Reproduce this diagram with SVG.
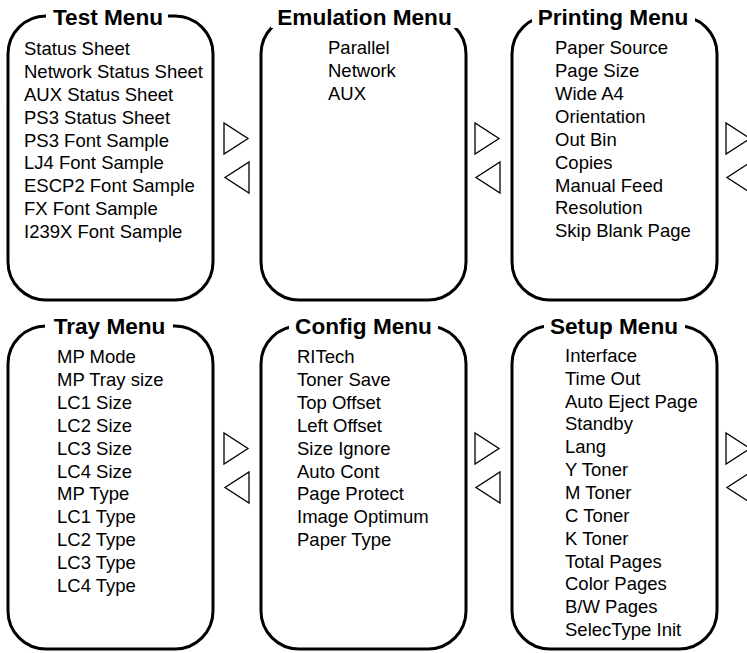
<svg xmlns="http://www.w3.org/2000/svg" width="747" height="653" viewBox="0 0 747 653">
<style>
.box{fill:none;stroke:#000;stroke-width:3}
.gap{fill:#fff;stroke:none}
.title{font-family:"Liberation Sans",Arial,sans-serif;font-weight:bold;font-size:22.6px;fill:#000;text-anchor:middle}
.item{font-family:"Liberation Sans",Arial,sans-serif;font-size:18.5px;fill:#000}
.tri{fill:#fff;stroke:#000;stroke-width:1.3;stroke-linejoin:miter}
</style>
<defs>
<polygon id="rt" class="tri" points="0,0 0,31 24,15.5"/>
<polygon id="lt" class="tri" points="25,0 25,31 1,15.5"/>
</defs>
<rect width="747" height="653" fill="#fff"/>

<g id="test-menu">
<rect class="box" x="8" y="16" width="205" height="284" rx="38" ry="38"/>
<rect class="gap" x="46" y="3" width="122" height="25"/>
<text class="title" x="108" y="25">Test Menu</text>
<text class="item" x="24" y="55">Status Sheet</text>
<text class="item" x="24" y="78">Network Status Sheet</text>
<text class="item" x="24" y="101">AUX Status Sheet</text>
<text class="item" x="24" y="124">PS3 Status Sheet</text>
<text class="item" x="24" y="147">PS3 Font Sample</text>
<text class="item" x="24" y="169">LJ4 Font Sample</text>
<text class="item" x="24" y="192">ESCP2 Font Sample</text>
<text class="item" x="24" y="215">FX Font Sample</text>
<text class="item" x="24" y="238">I239X Font Sample</text>
</g>

<g id="emulation-menu">
<rect class="box" x="261" y="16" width="205" height="284" rx="38" ry="38"/>
<rect class="gap" x="271" y="3" width="187" height="25"/>
<text class="title" x="364.5" y="25">Emulation Menu</text>
<text class="item" x="328" y="54">Parallel</text>
<text class="item" x="328" y="77">Network</text>
<text class="item" x="328" y="100">AUX</text>
</g>

<g id="printing-menu">
<rect class="box" x="512" y="16" width="205" height="284" rx="38" ry="38"/>
<rect class="gap" x="532" y="3" width="163" height="25"/>
<text class="title" x="613" y="25">Printing Menu</text>
<text class="item" x="555" y="54">Paper Source</text>
<text class="item" x="555" y="77">Page Size</text>
<text class="item" x="555" y="100">Wide A4</text>
<text class="item" x="555" y="123">Orientation</text>
<text class="item" x="555" y="146">Out Bin</text>
<text class="item" x="555" y="169">Copies</text>
<text class="item" x="555" y="192">Manual Feed</text>
<text class="item" x="555" y="214">Resolution</text>
<text class="item" x="555" y="237">Skip Blank Page</text>
</g>

<g id="tray-menu">
<rect class="box" x="8" y="326" width="205" height="323" rx="38" ry="38"/>
<rect class="gap" x="45" y="312" width="128" height="25"/>
<text class="title" x="109.5" y="334">Tray Menu</text>
<text class="item" x="57" y="363">MP Mode</text>
<text class="item" x="57" y="386">MP Tray size</text>
<text class="item" x="57" y="409">LC1 Size</text>
<text class="item" x="57" y="432">LC2 Size</text>
<text class="item" x="57" y="455">LC3 Size</text>
<text class="item" x="57" y="478">LC4 Size</text>
<text class="item" x="57" y="500">MP Type</text>
<text class="item" x="57" y="523">LC1 Type</text>
<text class="item" x="57" y="546">LC2 Type</text>
<text class="item" x="57" y="569">LC3 Type</text>
<text class="item" x="57" y="592">LC4 Type</text>
</g>

<g id="config-menu">
<rect class="box" x="261" y="326" width="205" height="323" rx="38" ry="38"/>
<rect class="gap" x="289" y="312" width="149" height="25"/>
<text class="title" x="363.5" y="334">Config Menu</text>
<text class="item" x="297" y="363">RITech</text>
<text class="item" x="297" y="386">Toner Save</text>
<text class="item" x="297" y="409">Top Offset</text>
<text class="item" x="297" y="432">Left Offset</text>
<text class="item" x="297" y="455">Size Ignore</text>
<text class="item" x="297" y="478">Auto Cont</text>
<text class="item" x="297" y="500">Page Protect</text>
<text class="item" x="297" y="523">Image Optimum</text>
<text class="item" x="297" y="546">Paper Type</text>
</g>

<g id="setup-menu">
<rect class="box" x="512" y="326" width="205" height="323" rx="38" ry="38"/>
<rect class="gap" x="544" y="312" width="141" height="25"/>
<text class="title" x="614" y="334">Setup Menu</text>
<text class="item" x="565" y="362">Interface</text>
<text class="item" x="565" y="385">Time Out</text>
<text class="item" x="565" y="408">Auto Eject Page</text>
<text class="item" x="565" y="430">Standby</text>
<text class="item" x="565" y="453">Lang</text>
<text class="item" x="565" y="476">Y Toner</text>
<text class="item" x="565" y="499">M Toner</text>
<text class="item" x="565" y="522">C Toner</text>
<text class="item" x="565" y="545">K Toner</text>
<text class="item" x="565" y="568">Total Pages</text>
<text class="item" x="565" y="590">Color Pages</text>
<text class="item" x="565" y="613">B/W Pages</text>
<text class="item" x="565" y="636">SelecType Init</text>
</g>

<g id="connectors">
<use href="#rt" x="224" y="123"/>
<use href="#lt" x="224" y="162"/>
<use href="#rt" x="475" y="123"/>
<use href="#lt" x="475" y="162"/>
<use href="#rt" x="726" y="123"/>
<use href="#lt" x="726" y="162"/>
<use href="#rt" x="224" y="433"/>
<use href="#lt" x="224" y="472"/>
<use href="#rt" x="475" y="433"/>
<use href="#lt" x="475" y="472"/>
<use href="#rt" x="726" y="433"/>
<use href="#lt" x="726" y="472"/>
</g>
</svg>
